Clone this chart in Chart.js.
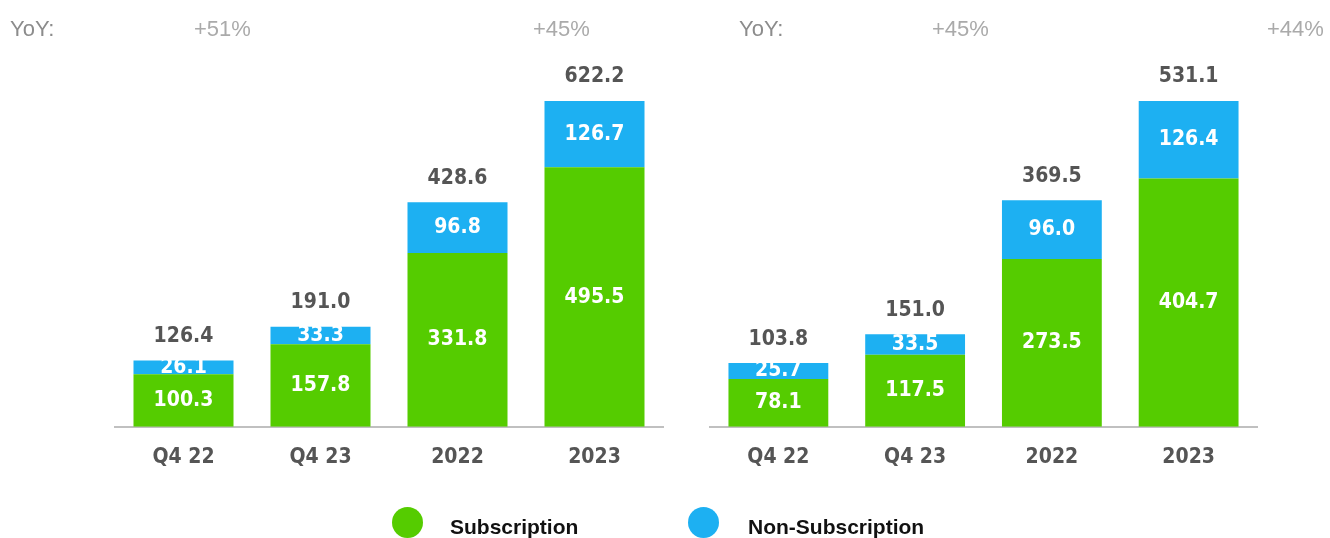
<!DOCTYPE html>
<html>
<head>
<meta charset="utf-8">
<script src="https://cdn.jsdelivr.net/npm/chart.js@4.4.1/dist/chart.umd.min.js"></script>
<style>
  body { margin: 0; background: #fff; }
  #wrap { position: relative; width: 1330px; height: 538px; overflow: hidden; }
  .panel { position: absolute; top: 0; width: 665px; height: 538px; }
  .yoy { position: absolute; top: 18px; font: 22px "Liberation Sans", Arial, sans-serif; line-height: 22px; color: #aaa; white-space: nowrap; }
  .yoy.lead { color: #8c8c8c; }
  .dot { position: absolute; top: 507px; width: 31px; height: 31px; border-radius: 50%; }
  .leg { position: absolute; top: 516px; font: bold 21px "Liberation Sans", Arial, sans-serif; line-height: 21px; color: #111; white-space: nowrap; }
</style>
</head>
<body>
<div id="wrap">
  <div class="panel" style="left:0"><canvas id="revChart"></canvas></div>
  <div class="panel" style="left:665px"><canvas id="grossChart"></canvas></div>

  <div class="yoy lead" style="left:10px">YoY:</div>
  <div class="yoy" style="left:194px">+51%</div>
  <div class="yoy" style="left:533px">+45%</div>
  <div class="yoy lead" style="left:739px">YoY:</div>
  <div class="yoy" style="left:932px">+45%</div>
  <div class="yoy" style="left:1267px">+44%</div>

  <div class="dot" style="left:392px;background:#55cc00"></div>
  <div class="leg" style="left:450px">Subscription</div>
  <div class="dot" style="left:688px;background:#1db0f2"></div>
  <div class="leg" style="left:748px">Non-Subscription</div>
</div>
<script>
const periods = ['Q4 22', 'Q4 23', '2022', '2023'];

// left panel
const leftSubscription = [100.3, 157.8, 331.8, 495.5];
const leftNonSubscription = [26.1, 33.3, 96.8, 126.7];
const leftTotals = [126.4, 191.0, 428.6, 622.2];

// right panel
const rightSubscription = [78.1, 117.5, 273.5, 404.7];
const rightNonSubscription = [25.7, 33.5, 96.0, 126.4];
const rightTotals = [103.8, 151.0, 369.5, 531.1];

const GREEN = '#55cc00';
const BLUE = '#1db0f2';
const NUM_FONT = 'bold 21px "DejaVu Sans Condensed", "DejaVu Sans", sans-serif';

// writes segment values inside the bars and totals above them
const valueLabels = {
  id: 'valueLabels',
  afterDatasetsDraw(chart, args, opts) {
    const ctx = chart.ctx;
    ctx.save();
    ctx.textAlign = 'center';
    ctx.textBaseline = 'middle';
    ctx.font = NUM_FONT;
    ctx.fillStyle = '#fff';
    chart.data.datasets.forEach((ds, i) => {
      chart.getDatasetMeta(i).data.forEach((bar, j) => {
        ctx.fillText(ds.data[j].toFixed(1), bar.x, (bar.y + bar.base) / 2);
      });
    });
    ctx.fillStyle = '#555';
    const topBars = chart.getDatasetMeta(chart.data.datasets.length - 1).data;
    topBars.forEach((bar, j) => {
      ctx.fillText(opts.totals[j].toFixed(1), bar.x, bar.y - 24);
    });
    ctx.restore();
  }
};

function makeChart(id, sub, nonSub, totals, padLeft, padRight) {
  const ctx = document.getElementById(id).getContext('2d');
  return new Chart(ctx, {
    type: 'bar',
    data: {
      labels: periods,
      datasets: [
        { label: 'Subscription', data: sub, backgroundColor: GREEN },
        { label: 'Non-Subscription', data: nonSub, backgroundColor: BLUE }
      ]
    },
    options: {
      responsive: true,
      maintainAspectRatio: false,
      animation: false,
      events: [],
      categoryPercentage: 1,
      barPercentage: 0.73,
      layout: { padding: { left: padLeft, right: padRight, top: 101, bottom: 50 } },
      plugins: {
        legend: { display: false },
        tooltip: { enabled: false },
        valueLabels: { totals: totals }
      },
      scales: {
        x: {
          stacked: true,
          grid: { display: false, drawTicks: false },
          border: { display: true, color: '#c0c0c0', width: 2 },
          ticks: {
            color: '#555',
            padding: 18,
            font: { family: '"DejaVu Sans Condensed", "DejaVu Sans", sans-serif', size: 21, weight: 'bold' }
          }
        },
        y: {
          stacked: true,
          display: false,
          min: 0,
          max: Math.max(...totals)
        }
      }
    },
    plugins: [valueLabels]
  });
}

makeChart('revChart', leftSubscription, leftNonSubscription, leftTotals, 115, 2);
makeChart('grossChart', rightSubscription, rightNonSubscription, rightTotals, 45, 73);
</script>
</body>
</html>
